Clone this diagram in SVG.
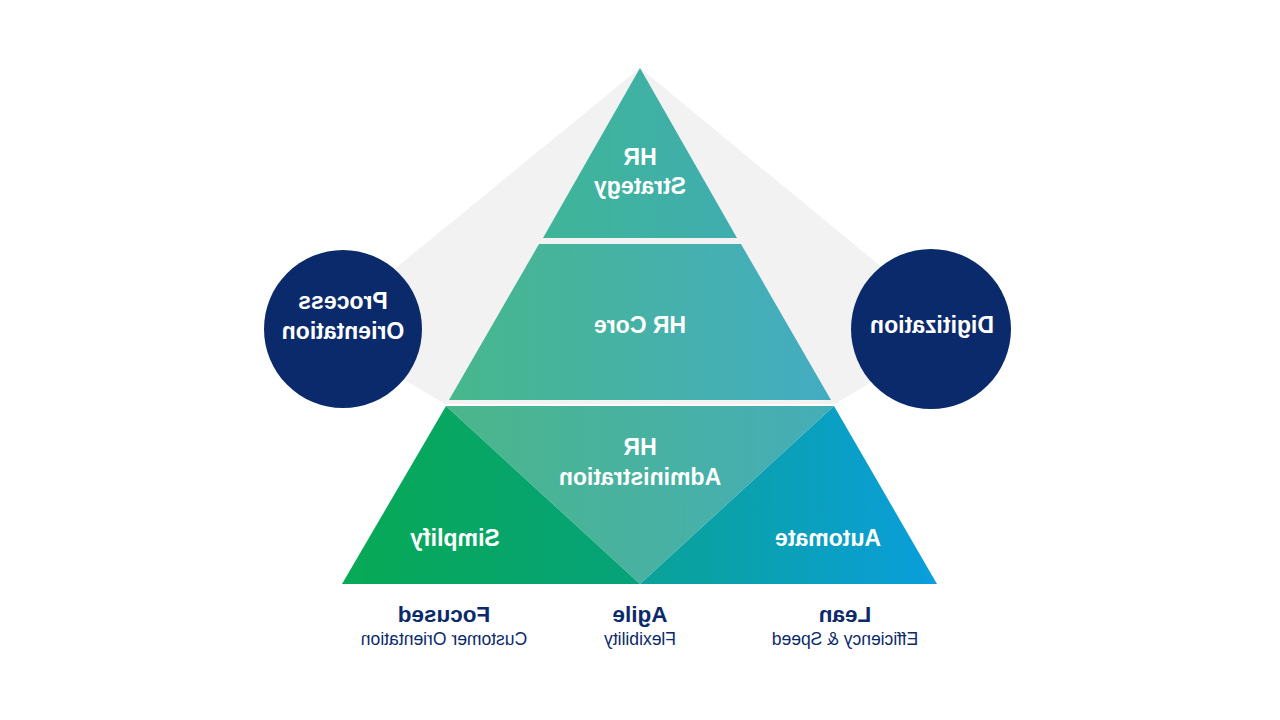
<svg xmlns="http://www.w3.org/2000/svg" width="1280" height="720" viewBox="0 0 1280 720">
<style>
.w{font-family:"Liberation Sans",Arial,sans-serif;font-weight:bold;fill:#ffffff;font-size:23px;text-anchor:middle}
.h{font-family:"Liberation Sans",Arial,sans-serif;font-weight:bold;fill:#0b2a6b;font-size:22.5px;text-anchor:middle}
.s{font-family:"Liberation Sans",Arial,sans-serif;fill:#0b2a6b;font-size:17.5px;text-anchor:middle}
</style>
<defs>
<linearGradient id="gTop" gradientUnits="userSpaceOnUse" x1="542" y1="0" x2="737" y2="0"><stop offset="0" stop-color="#3fb597"/><stop offset="1" stop-color="#40adaf"/></linearGradient>
<linearGradient id="gMid" gradientUnits="userSpaceOnUse" x1="449" y1="0" x2="831" y2="0"><stop offset="0" stop-color="#47b78c"/><stop offset="1" stop-color="#44acc2"/></linearGradient>
<linearGradient id="gInv" gradientUnits="userSpaceOnUse" x1="446" y1="0" x2="834" y2="0"><stop offset="0" stop-color="#4bb68a"/><stop offset="1" stop-color="#45adb8"/></linearGradient>
<linearGradient id="gL" gradientUnits="userSpaceOnUse" x1="342" y1="0" x2="640" y2="0"><stop offset="0" stop-color="#08a955"/><stop offset="1" stop-color="#06a27a"/></linearGradient>
<linearGradient id="gR" gradientUnits="userSpaceOnUse" x1="640" y1="0" x2="937" y2="0"><stop offset="0" stop-color="#0aa296"/><stop offset="1" stop-color="#0a9edc"/></linearGradient>
</defs>
<rect width="1280" height="720" fill="#ffffff"/>
<polygon id="backdrop" points="640,68 320,330 445,404 835,404 958,330" fill="#f2f2f2"/>
<g id="connectors"></g>
<g id="hr-strategy">
<polygon points="640,68 737,238 543,238" fill="url(#gTop)"/>
<text class="w" x="640" y="165" transform="matrix(-1 0 0 1 1280 0)">HR</text>
<text class="w" x="640" y="194" transform="matrix(-1 0 0 1 1280 0)">Strategy</text>
</g>
<g id="hr-core">
<polygon points="539,244 741,244 831,400 449,400" fill="url(#gMid)"/>
<text class="w" x="640" y="333" transform="matrix(-1 0 0 1 1280 0)">HR Core</text>
</g>
<g id="hr-admin">
<polygon points="446,406 834,406 640,584" fill="url(#gInv)"/>
<text class="w" x="640" y="455" transform="matrix(-1 0 0 1 1280 0)">HR</text>
<text class="w" x="640" y="485" transform="matrix(-1 0 0 1 1280 0)">Administration</text>
</g>
<g id="simplify">
<polygon points="446,406 640,584 342,584" fill="url(#gL)"/>
<text class="w" x="455" y="546" transform="matrix(-1 0 0 1 910 0)">Simplify</text>
</g>
<g id="automate">
<polygon points="834,406 937,584 640,584" fill="url(#gR)"/>
<text class="w" x="828" y="546" transform="matrix(-1 0 0 1 1656 0)">Automate</text>
</g>
<g id="process-orientation">
<circle cx="343" cy="329" r="79" fill="#0b2a6b"/>
<text class="w" x="343" y="309" transform="matrix(-1 0 0 1 686 0)">Process</text>
<text class="w" x="343" y="339" transform="matrix(-1 0 0 1 686 0)">Orientation</text>
</g>
<g id="digitization">
<circle cx="931" cy="329" r="80" fill="#0b2a6b"/>
<text class="w" x="932" y="333" transform="matrix(-1 0 0 1 1864 0)">Digitization</text>
</g>
<g id="focused">
<text class="h" x="444" y="622" transform="matrix(-1 0 0 1 888 0)">Focused</text>
<text class="s" x="444" y="645" transform="matrix(-1 0 0 1 888 0)">Customer Orientation</text>
</g>
<g id="agile">
<text class="h" x="640" y="622" transform="matrix(-1 0 0 1 1280 0)">Agile</text>
<text class="s" x="640" y="645" transform="matrix(-1 0 0 1 1280 0)">Flexibility</text>
</g>
<g id="lean">
<text class="h" x="845" y="622" transform="matrix(-1 0 0 1 1690 0)">Lean</text>
<text class="s" x="845" y="645" transform="matrix(-1 0 0 1 1690 0)">Efficiency &amp; Speed</text>
</g>
</svg>
